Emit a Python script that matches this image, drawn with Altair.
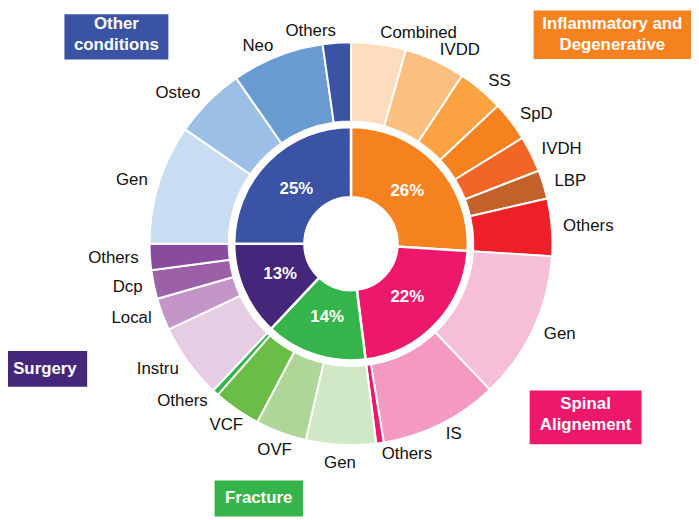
import altair as alt
import pandas as pd

# ---------------- data ----------------
categories = ["Inflammatory and Degenerative", "Spinal Alignement", "Fracture",
              "Surgery", "Other conditions"]
category_share = [26, 22, 14, 13, 25]
category_text = ["26%", "22%", "14%", "13%", "25%"]
category_colors = ["#F6821F", "#ED176B", "#34B44A", "#44277A", "#3A53A4"]
category_title_lines = [["Inflammatory and", "Degenerative"], ["Spinal", "Alignement"],
                        ["Fracture"], ["Surgery"], ["Other", "conditions"]]

inflammatory_sub = ["Combined", "IVDD", "SS", "SpD", "IVDH", "LBP", "Others"]
inflammatory_val = [4.4, 4.9, 3.7, 3.2, 2.9, 2.3, 4.6]
inflammatory_col = ["#FDDDBE", "#FDBF80", "#FBA342", "#F6821F", "#F26524", "#C2622A", "#EE2027"]

spinal_sub = ["Gen", "IS", "Others"]
spinal_val = [11.9, 9.5, 0.6]
spinal_col = ["#F7BFD7", "#F49AC2", "#ED176B"]

fracture_sub = ["Gen", "OVF", "VCF", "Others"]
fracture_val = [5.6, 4.1, 3.8, 0.5]
fracture_col = ["#D1E8C6", "#ADD697", "#6ABD46", "#34B44A"]

surgery_sub = ["Instru", "Local", "Dcp", "Others"]
surgery_val = [6.0, 2.6, 2.3, 2.1]
surgery_col = ["#E7CDE4", "#C496C7", "#9C5FA8", "#884B9E"]

other_sub = ["Gen", "Osteo", "Neo", "Others"]
other_val = [9.6, 5.75, 7.4, 2.25]
other_col = ["#C9DDF2", "#9CBFE5", "#6A9BD2", "#3A53A4"]

# ---------------- layout (annotation boxes, pixels in plot area) ----------------
W, H = 683, 504
CX, CY = 346.5, 235.5
FONT = "Liberation Sans"
box_layout = {
    "Inflammatory and Degenerative": dict(x0=531, x1=690, y0=0, y1=49, tx=610.5, ty=[13.7, 34.5]),
    "Spinal Alignement": dict(x0=527, x1=640, y0=383.7, y1=438, tx=583.5, ty=[397, 418.7]),
    "Fracture": dict(x0=208.7, x1=298, y0=474.7, y1=511, tx=253.3, ty=[492.7]),
    "Surgery": dict(x0=0, x1=80, y0=344, y1=380, tx=37.3, ty=[362]),
    "Other conditions": dict(x0=57, x1=162, y0=3.7, y1=49.3, tx=109.5, ty=[13.7, 34.7]),
}

# ---------------- tables ----------------
inner = pd.DataFrame({"category": categories, "value": category_share,
                      "text": category_text, "color": category_colors,
                      "idx": list(range(len(categories)))})

rows = []
i = 0
for cat, subs, vals, cols in zip(
        categories,
        [inflammatory_sub, spinal_sub, fracture_sub, surgery_sub, other_sub],
        [inflammatory_val, spinal_val, fracture_val, surgery_val, other_val],
        [inflammatory_col, spinal_col, fracture_col, surgery_col, other_col]):
    for s, v, c in zip(subs, vals, cols):
        rows.append({"category": cat, "label": s, "value": v, "color": c, "idx": i})
        i += 1
outer = pd.DataFrame(rows)

box_rows, line_rows = [], []
for cat, col, lines in zip(categories, category_colors, category_title_lines):
    L = box_layout[cat]
    box_rows.append({"category": cat, "color": col, "x0": L["x0"], "x1": L["x1"],
                     "y0": L["y0"], "y1": L["y1"]})
    for line, ty in zip(lines, L["ty"]):
        line_rows.append({"line": line, "tx": L["tx"], "ty": ty})
boxes = pd.DataFrame(box_rows)
box_lines = pd.DataFrame(line_rows)

theta_scale = alt.Scale(domain=[0, 100])
center = dict(x=alt.value(CX), y=alt.value(CY))

# ---------------- layers ----------------
inner_arc = alt.Chart(inner).mark_arc(radius=118, radius2=47, stroke="white", strokeWidth=2.5).encode(
    theta=alt.Theta("value:Q", stack=True, scale=theta_scale),
    order=alt.Order("idx:Q"),
    color=alt.Color("color:N", scale=None),
    **center,
)

outer_arc = alt.Chart(outer).mark_arc(radius=203.5, radius2=123.5, stroke="white", strokeWidth=2).encode(
    theta=alt.Theta("value:Q", stack=True, scale=theta_scale),
    order=alt.Order("idx:Q"),
    color=alt.Color("color:N", scale=None),
    **center,
)

pct_text = alt.Chart(inner).transform_window(
    cum="sum(value)", sort=[alt.SortField("idx")], frame=[None, 0]
).transform_calculate(mid="datum.cum - datum.value / 2").mark_text(
    radius=78, font=FONT, fontSize=17, fontWeight="bold", color="white",
    align="center", baseline="middle",
).encode(
    theta=alt.Theta("mid:Q", scale=theta_scale),
    text="text:N",
    **center,
)

label_base = alt.Chart(outer).transform_window(
    cum="sum(value)", sort=[alt.SortField("idx")], frame=[None, 0]
).transform_calculate(
    mid="datum.cum - datum.value / 2"
).transform_calculate(
    deg="datum.mid * 3.6"
).transform_calculate(
    side="datum.deg >= 172 && datum.deg <= 218 ? 'center' : (datum.deg < 180 ? 'left' : 'right')"
)

label_layers = []
for side, r in [("left", 215), ("right", 215), ("center", 222)]:
    label_layers.append(
        label_base.transform_filter(alt.datum.side == side).mark_text(
            radius=r, align=side, baseline="middle", font=FONT, fontSize=17, color="#111111",
        ).encode(
            theta=alt.Theta("mid:Q", scale=theta_scale),
            text="label:N",
            **center,
        )
    )

box_rect = alt.Chart(boxes).mark_rect().encode(
    x=alt.X("x0:Q", scale=None, axis=None),
    x2="x1:Q",
    y=alt.Y("y0:Q", scale=None, axis=None),
    y2="y1:Q",
    color=alt.Color("color:N", scale=None),
)

box_text = alt.Chart(box_lines).mark_text(
    font=FONT, fontSize=17, fontWeight="bold", color="white", align="center", baseline="middle",
).encode(
    x=alt.X("tx:Q", scale=None, axis=None),
    y=alt.Y("ty:Q", scale=None, axis=None),
    text="line:N",
)

chart = alt.layer(
    box_rect, box_text, outer_arc, inner_arc, pct_text, *label_layers
).properties(
    width=W, height=H, padding=0,
).configure_view(stroke=None)

chart.save("out.html", embed_options={"renderer": "svg", "actions": False})
